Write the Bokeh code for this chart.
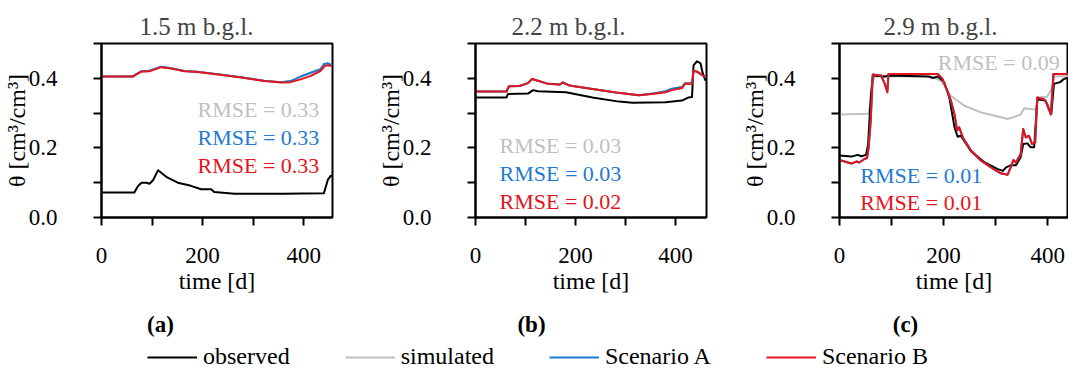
from bokeh.plotting import figure
from bokeh.models import (Range1d, FixedTicker, PrintfTickFormatter, Label,
                          Legend, LegendItem, Title)
from bokeh.layouts import row, column
from bokeh.embed import file_html
from bokeh.resources import INLINE

FONT = "Liberation Serif"
FS = "23px"
FS_LAB = "24px"
FS_TITLE = "25px"

# ---------------- data ----------------
titles = ["1.5 m b.g.l.", "2.2 m b.g.l.", "2.9 m b.g.l."]
panel_tags = ["(a)", "(b)", "(c)"]
series_names = ["observed", "simulated", "Scenario A", "Scenario B"]
series_colors = ["#000000", "#bfbfbf", "#1f7bd0", "#e3141c"]
x_ticks = [0, 200, 400]
x_minor = [100, 300]
y_ticks = [0.0, 0.2, 0.4]
y_minor = [0.1, 0.3, 0.5]

# (a) 1.5 m
a_obs_day = [0, 65, 72, 79, 89, 95, 102, 112, 128, 151, 177, 197, 217, 223, 263, 300, 360, 440, 448, 453, 456]
a_obs_val = [0.072, 0.072, 0.090, 0.100, 0.100, 0.097, 0.107, 0.136, 0.117, 0.100, 0.091, 0.081, 0.081,
             0.073, 0.068, 0.068, 0.068, 0.070, 0.109, 0.119, 0.120]
a_A_day = [0, 62, 70, 79, 95, 118, 138, 164, 190, 230, 276, 322, 355, 374, 394, 414, 433, 440, 448, 456]
a_A_val = [0.405, 0.405, 0.413, 0.421, 0.422, 0.433, 0.429, 0.421, 0.419, 0.412, 0.403, 0.393, 0.389,
           0.392, 0.405, 0.416, 0.426, 0.441, 0.443, 0.437]
a_sim_day = a_A_day
a_sim_val = a_A_val
a_B_day = [0, 62, 70, 79, 95, 118, 138, 164, 190, 230, 276, 322, 355, 374, 394, 414, 433, 443, 450, 456]
a_B_val = [0.405, 0.405, 0.412, 0.419, 0.420, 0.432, 0.428, 0.420, 0.418, 0.411, 0.402, 0.392, 0.388,
           0.389, 0.397, 0.407, 0.421, 0.437, 0.437, 0.435]
a_rmse = ["RMSE = 0.33", "RMSE = 0.33", "RMSE = 0.33"]

# (b) 2.2 m
b_obs_day = [0, 62, 65, 105, 115, 125, 181, 234, 287, 314, 380, 413, 426, 433, 436, 443, 450, 454, 460]
b_obs_val = [0.345, 0.345, 0.355, 0.356, 0.366, 0.363, 0.360, 0.345, 0.333, 0.330, 0.331, 0.336, 0.345,
             0.346, 0.437, 0.449, 0.443, 0.417, 0.393]
b_B_day = [0, 62, 67, 88, 105, 113, 125, 145, 168, 175, 188, 234, 281, 327, 354, 380, 393, 413, 419,
           433, 436, 443, 460]
b_B_val = [0.362, 0.362, 0.377, 0.378, 0.386, 0.398, 0.393, 0.384, 0.382, 0.388, 0.379, 0.369, 0.359,
           0.351, 0.355, 0.360, 0.366, 0.372, 0.384, 0.384, 0.422, 0.419, 0.403]
b_A_day = b_B_day
b_A_val = [0.362, 0.362, 0.377, 0.378, 0.386, 0.398, 0.393, 0.384, 0.382, 0.388, 0.379, 0.369, 0.359,
           0.351, 0.356, 0.363, 0.370, 0.375, 0.386, 0.385, 0.422, 0.419, 0.403]
b_sim_day = b_A_day
b_sim_val = b_A_val
b_rmse = ["RMSE = 0.03", "RMSE = 0.03", "RMSE = 0.02"]

# (c) 2.9 m
c_obs_day = [0, 23, 35, 42, 51, 55, 60, 64, 87, 96, 172, 179, 189, 201, 211, 221, 227, 233, 253, 279,
             304, 314, 320, 329, 339, 348, 353, 361, 367, 374, 380, 396, 402, 407, 412, 424, 431, 440]
c_obs_val = [0.178, 0.175, 0.180, 0.176, 0.180, 0.210, 0.345, 0.408, 0.405, 0.408, 0.405, 0.401, 0.405,
             0.389, 0.345, 0.259, 0.232, 0.235, 0.190, 0.158, 0.139, 0.134, 0.144, 0.150, 0.150, 0.173,
             0.211, 0.213, 0.202, 0.202, 0.340, 0.336, 0.312, 0.298, 0.384, 0.389, 0.398, 0.402]
c_sim_day = [0, 55, 60, 64, 68, 176, 195, 214, 240, 272, 304, 323, 332, 348, 355, 367, 377, 383, 399,
             409, 413, 440]
c_sim_val = [0.296, 0.298, 0.326, 0.393, 0.405, 0.405, 0.393, 0.350, 0.321, 0.302, 0.290, 0.283, 0.287,
             0.296, 0.314, 0.312, 0.310, 0.345, 0.347, 0.374, 0.406, 0.406]
c_B_day = [0, 16, 23, 33, 38, 48, 53, 56, 60, 64, 80, 87, 92, 94, 189, 198, 208, 214, 221, 226,
           230, 237, 253, 272, 291, 310, 323, 329, 334, 339, 348, 353, 358, 364, 370, 376, 380, 393,
           399, 406, 411, 440]
c_B_val = [0.165, 0.158, 0.155, 0.161, 0.158, 0.168, 0.171, 0.201, 0.278, 0.411, 0.408, 0.384, 0.360,
           0.412, 0.412, 0.398, 0.360, 0.336, 0.297, 0.250, 0.259, 0.230, 0.192, 0.163, 0.144, 0.127,
           0.123, 0.144, 0.165, 0.158, 0.182, 0.254, 0.230, 0.235, 0.211, 0.215, 0.345, 0.340, 0.326,
           0.296, 0.412, 0.412]
c_A_day = c_B_day
c_A_val = c_B_val
c_rmse = ["RMSE = 0.09", "RMSE = 0.01", "RMSE = 0.01"]


def style_axes(p):
    for ax in (p.xaxis[0], p.yaxis[0]):
        ax.axis_line_width = 2
        ax.axis_line_color = "black"
        ax.major_tick_line_width = 2
        ax.minor_tick_line_width = 2
        ax.major_tick_in = 0
        ax.minor_tick_in = 0
        ax.major_tick_out = 8
        ax.minor_tick_out = 8
        ax.major_label_text_font = FONT
        ax.major_label_text_font_size = FS
        ax.major_label_text_color = "black"
        ax.axis_label_text_font = FONT
        ax.axis_label_text_font_size = FS_LAB
        ax.axis_label_text_font_style = "normal"
        ax.axis_label_text_color = "black"
    p.xaxis[0].ticker = FixedTicker(ticks=x_ticks, minor_ticks=x_minor)
    p.yaxis[0].ticker = FixedTicker(ticks=y_ticks, minor_ticks=y_minor)
    p.yaxis[0].formatter = PrintfTickFormatter(format="%.1f")
    p.xaxis[0].axis_label = "time [d]"
    p.yaxis[0].axis_label = "θ [cm³/cm³]"
    p.xaxis[0].major_label_standoff = 22
    p.xaxis[0].axis_label_standoff = 2
    p.yaxis[0].major_label_standoff = 36
    p.yaxis[0].axis_label_standoff = -4
    p.xgrid.visible = False
    p.ygrid.visible = False
    p.outline_line_color = "black"
    p.outline_line_width = 2


def make_panel(title, title_offset, xmax, series, rmse, rmse_x, rmse_y, rmse_align, br, w):
    p = figure(width=w, height=300,
               x_range=Range1d(0, xmax), y_range=Range1d(0, 0.5),
               min_border_left=0, min_border_right=br,
               min_border_top=43, min_border_bottom=83,
               output_backend="svg", toolbar_location=None)
    p.title = Title(text=title, align="left", offset=title_offset,
                    text_font=FONT, text_font_size=FS_TITLE,
                    text_font_style="normal", standoff=8)
    style_axes(p)
    # draw order: simulated, observed, Scenario A, Scenario B
    for i in [1, 0, 2, 3]:
        d, v = series[i]
        p.line(d, v, line_color=series_colors[i], line_width=2, line_join="round")
    for k, (txt, col) in enumerate(zip(rmse, series_colors[1:])):
        p.add_layout(Label(x=rmse_x[k], y=rmse_y[k], text=txt, text_color=col,
                           text_font=FONT, text_font_size="22px",
                           text_align=rmse_align[k], text_baseline="middle"))
    return p


p1 = make_panel(titles[0], 38, 457,
                [(a_obs_day, a_obs_val), (a_sim_day, a_sim_val),
                 (a_A_day, a_A_val), (a_B_day, a_B_val)],
                a_rmse, [431, 431, 431], [0.311, 0.229, 0.149], ["right"] * 3, 42, 374)
p2 = make_panel(titles[1], 36, 462,
                [(b_obs_day, b_obs_val), (b_sim_day, b_sim_val),
                 (b_A_day, b_A_val), (b_B_day, b_B_val)],
                b_rmse, [48, 48, 48], [0.207, 0.127, 0.046], ["left"] * 3, 32, 364)
p3 = make_panel(titles[2], 44, 440,
                [(c_obs_day, c_obs_val), (c_sim_day, c_sim_val),
                 (c_A_day, c_A_val), (c_B_day, c_B_val)],
                c_rmse, [189, 40, 40], [0.446, 0.121, 0.043], ["left"] * 3, 0, 330)

# bottom strip: panel tags and legend
pleg = figure(width=1068, height=70, x_range=Range1d(0, 1068), y_range=Range1d(70, 0),
              min_border=0, x_axis_type=None, y_axis_type=None,
              output_backend="svg", toolbar_location=None)
pleg.outline_line_color = None
pleg.xgrid.visible = False
pleg.ygrid.visible = False
for tag, tx in zip(panel_tags, [160, 531, 905]):
    pleg.add_layout(Label(x=tx, y=24, text=tag, text_font=FONT, text_font_size=FS,
                          text_font_style="bold", text_align="center",
                          text_baseline="middle", text_color="black"))
items = []
nan = float("nan")
for name, col in zip(series_names, series_colors):
    r = pleg.line(x=[nan], y=[nan], line_color=col, line_width=2)
    items.append(LegendItem(label=name, renderers=[r]))
legend = Legend(items=items, orientation="horizontal", location=(147, 0),
                glyph_width=50, glyph_height=20, label_standoff=6, spacing=55,
                padding=0, margin=0, border_line_color=None, background_fill_alpha=0,
                label_text_font=FONT, label_text_font_size=FS_LAB, label_text_color="black")
pleg.add_layout(legend)

layout = column(row(p1, p2, p3), pleg)
open("out.html", "w").write(file_html(layout, INLINE))
